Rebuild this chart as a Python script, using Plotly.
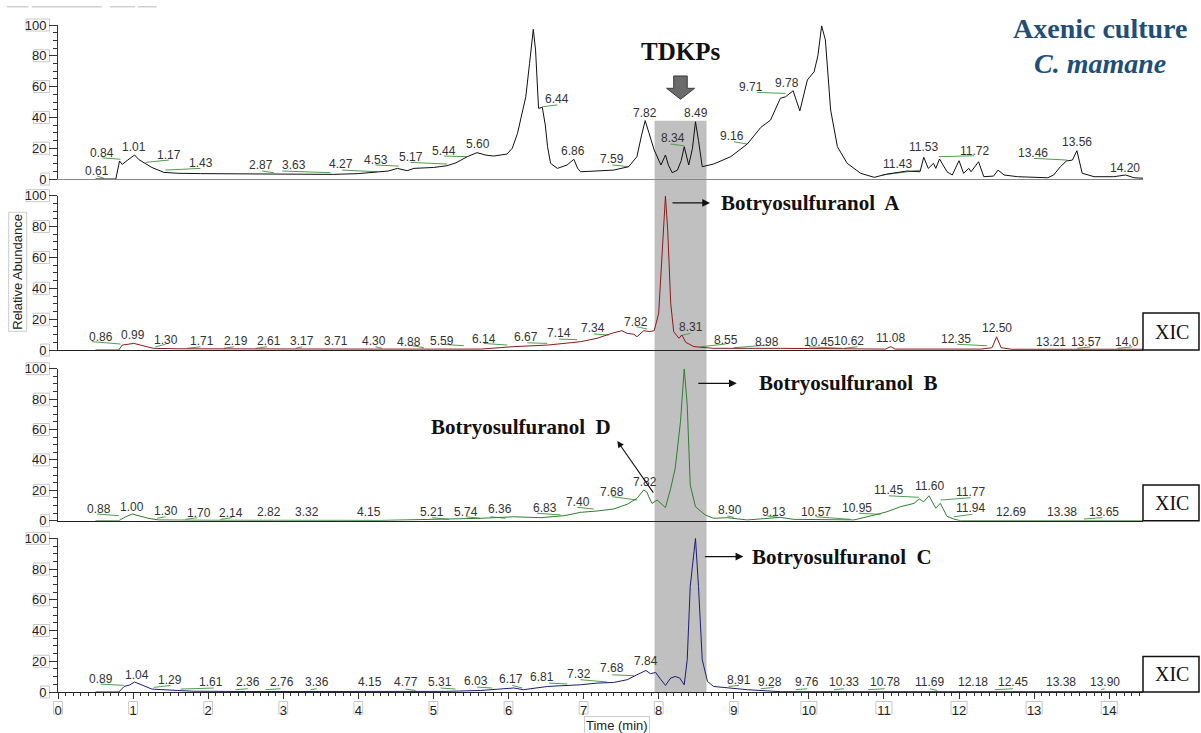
import plotly.graph_objects as go
from plotly.subplots import make_subplots

XMAX = 14.45

# ---------------- Panel 1: TIC (black) ----------------
tic_t = [0.50, 0.77, 0.82, 0.855, 0.92, 1.02, 1.08, 1.14, 1.25, 1.41,
         1.60, 1.90, 2.50, 3.00, 3.67, 4.00, 4.30, 4.40, 4.52, 4.65,
         4.74, 5.00, 5.18, 5.30, 5.45, 5.58, 5.70, 5.80, 5.98, 6.05,
         6.12, 6.23, 6.28, 6.33, 6.36, 6.40, 6.45, 6.49, 6.52, 6.56,
         6.65, 6.78, 6.87, 6.92, 6.96, 7.20, 7.40, 7.60, 7.71, 7.77,
         7.82, 7.87, 7.94, 8.03, 8.09, 8.13, 8.18, 8.25, 8.30, 8.34,
         8.40, 8.45, 8.49, 8.53, 8.58, 8.73, 8.96, 9.18, 9.36, 9.49,
         9.62, 9.69, 9.79, 9.88, 9.98, 10.07, 10.12, 10.17, 10.22, 10.29,
         10.38, 10.51, 10.69, 10.87, 11.04, 11.31, 11.48, 11.53, 11.59, 11.66,
         11.69, 11.74, 11.84, 11.91, 12.00, 12.06, 12.13, 12.16, 12.26, 12.33,
         12.46, 12.52, 12.60, 12.78, 13.18, 13.26, 13.35, 13.43, 13.51, 13.57,
         13.64, 13.80, 14.06, 14.22, 14.33, 14.45]
tic_v = [0, 0, 11.7, 9.5, 12.0, 15.6, 12.5, 10.6, 7.5, 4.3,
         3.7, 3.5, 3.2, 3.0, 3.0, 3.5, 4.7, 5.2, 6.9, 5.4,
         6.9, 7.5, 8.6, 10.5, 14.5, 17.1, 15.5, 14.9, 16.2, 20.0,
         29.7, 53.4, 75.0, 97.2, 83.8, 45.9, 46.5, 35.0, 21.0, 10.2,
         6.9, 9.1, 12.8, 7.0, 4.7, 5.2, 5.8, 8.0, 14.5, 28.0,
         37.9, 30.0, 18.8, 9.1, 15.6, 9.0, 4.1, 5.8, 12.0, 21.0,
         9.1, 20.0, 37.2, 25.0, 8.0, 9.7, 14.5, 22.7, 33.5, 38.3,
         52.4, 53.4, 57.3, 44.2, 64.3, 69.7, 80.0, 99.4, 90.3, 44.8,
         21.0, 10.2, 3.7, 1.1, 3.2, 5.2, 4.7, 14.1, 6.9, 10.2,
         6.9, 13.0, 4.7, 2.6, 11.9, 3.7, 6.9, 4.7, 11.2, 1.5,
         1.9, 5.8, 2.6, 1.5, 0.8, 2.6, 8.0, 11.7, 12.3, 18.4,
         3.7, 1.5, 1.5, 2.6, 0.8, 0.5]

# ---------------- Panel 2: XIC Botryosulfuranol A (dark red) ----------------
xa_t = [0.50, 0.81, 0.855, 0.92, 1.01, 1.10, 1.27, 1.60, 2.50, 3.50,
        4.30, 5.00, 5.63, 6.07, 6.52, 6.96, 7.18, 7.40, 7.51, 7.58,
        7.67, 7.71, 7.80, 7.88, 7.94, 8.00, 8.05, 8.09, 8.12, 8.16,
        8.20, 8.27, 8.31, 8.36, 8.47, 8.73, 9.62, 10.50, 11.02, 11.09,
        11.15, 12.30, 12.44, 12.50, 12.56, 12.70, 13.50, 14.45]
xa_v = [0, 0, 3.2, 3.5, 4.3, 3.2, 1.1, 0.8, 0.6, 0.6,
        0.6, 0.6, 0.6, 2.2, 3.2, 5.4, 7.6, 11.2, 12.5, 10.8,
        10.2, 8.6, 12.5, 12.0, 12.5, 23.8, 67.0, 99.8, 77.8, 30.3,
        11.9, 7.6, 9.7, 5.0, 2.2, 1.1, 1.1, 0.6, 0.6, 2.2,
        0.6, 0.6, 1.5, 8.6, 1.5, 0.5, 0.5, 0.5]

# ---------------- Panel 3: XIC Botryosulfuranol B / D (green) ----------------
xb_t = [0.50, 0.81, 0.90, 0.99, 1.20, 1.34, 2.00, 3.00, 4.30, 5.18,
        5.63, 6.07, 6.43, 6.74, 6.96, 7.18, 7.40, 7.58, 7.71, 7.80,
        7.84, 7.91, 7.98, 8.03, 8.09, 8.16, 8.22, 8.29, 8.34, 8.38,
        8.42, 8.49, 8.62, 8.73, 8.91, 9.18, 9.62, 9.80, 10.60, 10.91,
        11.04, 11.22, 11.40, 11.47, 11.53, 11.60, 11.69, 11.75, 11.84, 11.93,
        12.02, 14.45]
xb_v = [0, 0, 2.6, 4.4, 1.6, 0.5, 0.3, 0.3, 0.2, 1.1,
        1.6, 2.6, 2.0, 3.3, 5.5, 6.4, 7.7, 10.8, 14.7, 20.2,
        19.0, 11.4, 13.6, 11.4, 8.6, 21.3, 34.5, 65.1, 100, 76.1,
        23.5, 9.2, 3.8, 1.6, 2.0, 0.5, 2.2, 0.9, 0.5, 4.2,
        5.9, 9.2, 11.4, 14.3, 12.5, 16.4, 8.2, 11.4, 2.9, 1.1,
        0, 0]

# ---------------- Panel 4: XIC Botryosulfuranol C (navy) ----------------
xc_t = [0.50, 0.81, 0.88, 0.95, 1.02, 1.10, 1.25, 1.59, 1.80, 2.50,
        4.30, 5.18, 5.63, 6.07, 6.20, 6.52, 6.96, 7.18, 7.40, 7.58,
        7.71, 7.83, 7.89, 7.96, 8.03, 8.09, 8.16, 8.22, 8.28, 8.34,
        8.38, 8.42, 8.49, 8.53, 8.58, 8.65, 8.73, 8.96, 9.18, 9.62,
        14.45]
xc_v = [0, 0, 3.6, 4.5, 6.5, 5.0, 1.9, 1.0, 0.5, 0.3,
        0.2, 0.4, 1.0, 2.6, 1.5, 3.6, 4.7, 5.8, 6.2, 8.0,
        11.2, 14.0, 11.9, 12.7, 8.0, 4.3, 9.1, 10.1, 9.1, 4.7,
        21.0, 68.6, 100, 68.6, 21.0, 6.9, 3.6, 2.6, 1.5, 0.2,
        0.2]

# ---------------- Peak labels (text, time, abundance) ----------------
lab1_text = ["0.61", "0.84", "1.01", "1.17", "1.43", "2.87", "3.63", "4.27", "4.53", "5.17",
             "5.44", "5.60", "6.32", "6.44", "6.86", "7.59", "7.82", "8.34", "8.49", "9.16",
             "9.71", "9.78", "10.17", "11.43", "11.53", "11.72", "13.46", "13.56", "14.20"]
lab1_t = [0.522, 0.589, 1.010, 1.472, 1.898, 2.697, 3.137, 3.763, 4.229, 4.695,
          5.139, 5.597, 6.316, 6.649, 6.862, 7.372, 7.816, 8.189, 8.491, 8.980,
          9.224, 9.703, 10.169, 11.178, 11.532, 12.211, 12.989, 13.566, 14.209]
lab1_v = [5.4, 16.7, 21.0, 15.6, 10.2, 9.1, 9.1, 9.5, 12.3, 14.5,
          18.4, 22.7, 103.2, 51.8, 18.4, 12.8, 43.1, 26.4, 43.1, 27.9,
          59.5, 62.1, 105.8, 9.7, 21.0, 18.4, 16.7, 24.2, 7.3]

lab2_text = ["0.86", "0.99", "1.30", "1.71", "2.19", "2.61", "3.17", "3.71", "4.30", "4.88",
             "5.59", "6.14", "6.67", "7.14", "7.34", "7.82", "8.09", "8.31", "8.55", "8.98",
             "10.45", "10.62", "11.08", "12.35", "12.50", "13.21", "13.57", "14.0"]
lab2_t = [0.566, 1.002, 1.432, 1.921, 2.364, 2.808, 3.253, 3.696, 4.206, 4.672,
          5.117, 5.671, 6.227, 6.670, 7.123, 7.692, 8.091, 8.434, 8.891, 9.446,
          10.133, 10.533, 11.088, 11.954, 12.500, 13.219, 13.685, 14.241]
lab2_v = [8.6, 9.7, 6.5, 5.8, 5.8, 5.8, 5.8, 5.8, 5.8, 5.4,
          6.0, 6.9, 8.6, 10.8, 14.1, 18.3, 105.8, 15.1, 6.5, 5.4,
          5.4, 5.8, 7.6, 6.9, 14.5, 5.4, 5.4, 5.4]

lab3_text = ["0.88", "1.00", "1.30", "1.70", "2.14", "2.82", "3.32", "4.15", "5.21", "5.74",
             "6.36", "6.83", "7.40", "7.68", "7.82", "8.34", "8.90", "9.13", "10.57", "10.95",
             "11.45", "11.60", "11.77", "11.94", "12.69", "13.38", "13.65"]
lab3_t = [0.543, 0.988, 1.432, 1.875, 2.298, 2.808, 3.310, 4.140, 4.984, 5.428,
          5.884, 6.480, 6.923, 7.381, 7.812, 8.335, 8.944, 9.534, 10.089, 10.645,
          11.065, 11.611, 12.154, 12.154, 12.696, 13.375, 13.929]
lab3_v = [7.7, 9.2, 6.4, 4.9, 4.9, 5.9, 5.9, 5.7, 5.9, 5.9,
          7.7, 8.6, 12.5, 19.1, 25.7, 106.8, 7.0, 5.9, 5.9, 8.2,
          20.2, 22.8, 18.7, 8.2, 5.9, 5.9, 5.9]

lab4_text = ["0.89", "1.04", "1.29", "1.61", "2.36", "2.76", "3.36", "4.15", "4.77", "5.31",
             "6.03", "6.17", "6.81", "7.32", "7.68", "7.84", "8.49", "8.91", "9.28", "9.76",
             "10.33", "10.78", "11.69", "12.18", "12.45", "13.38", "13.90"]
lab4_t = [0.575, 1.046, 1.498, 2.031, 2.528, 2.986, 3.443, 4.153, 4.628, 5.085,
          5.561, 6.027, 6.449, 6.937, 7.381, 7.834, 8.491, 9.068, 9.481, 9.979,
          10.466, 11.008, 11.612, 12.184, 12.717, 13.352, 13.938]
lab4_v = [8.6, 11.2, 7.5, 6.2, 6.2, 6.2, 6.2, 6.2, 6.2, 6.2,
          6.9, 8.4, 9.5, 11.9, 15.6, 19.9, 106.5, 8.0, 6.2, 6.2,
          6.2, 6.2, 6.2, 6.2, 6.2, 6.2, 6.2]

# ---------------- Integration baseline marks (t0, v0, t1, v1) ----------------
marks1 = [(0.522, 1.9, 0.610, 0.5), (0.589, 13.8, 0.832, 12.8), (1.165, 10.8, 1.476, 12.3),
          (1.432, 5.8, 1.898, 6.9), (2.720, 5.2, 2.874, 4.1), (2.986, 5.2, 3.629, 4.1),
          (3.785, 5.8, 4.251, 4.7), (4.229, 9.1, 4.539, 8.4), (4.695, 10.8, 5.184, 9.7),
          (5.139, 14.9, 5.450, 14.5), (6.449, 46.9, 6.649, 48.1), (7.381, 9.1, 7.603, 8.0),
          (8.158, 22.7, 8.335, 21.6), (9.001, 24.2, 9.180, 22.7), (9.313, 56.2, 9.690, 55.6),
          (10.978, 2.6, 11.489, 5.8), (11.732, 14.5, 12.198, 15.1), (12.997, 13.4, 13.441, 12.3)]
marks2 = [(0.455, 5.4, 0.832, 3.9), (1.299, 2.1, 1.432, 3.7), (1.721, 1.1, 1.898, 2.1),
          (2.208, 1.1, 2.342, 2.1), (2.631, 1.1, 2.786, 2.1), (3.163, 1.1, 3.253, 2.1),
          (4.229, 2.1, 4.318, 1.1), (4.672, 3.2, 4.872, 1.5), (5.117, 3.7, 5.405, 2.8),
          (5.671, 4.3, 5.983, 3.2), (6.249, 4.7, 6.516, 4.3), (6.670, 7.1, 6.915, 6.7),
          (7.136, 10.4, 7.336, 9.7), (7.705, 15.1, 7.848, 13.6), (8.291, 9.3, 8.424, 10.8),
          (8.558, 2.1, 8.891, 3.9), (9.001, 1.5, 9.446, 3.2), (10.000, 2.1, 10.445, 1.1),
          (10.466, 1.1, 10.645, 2.1), (11.977, 3.7, 12.376, 2.8), (13.575, 1.1, 13.752, 2.0),
          (14.108, 1.1, 14.307, 2.0)]
marks3 = [(0.522, 4.4, 0.810, 3.3), (1.321, 1.6, 1.432, 2.6), (1.698, 0.9, 1.854, 2.0),
          (2.164, 0.9, 2.320, 2.0), (4.984, 2.0, 5.205, 0.9), (5.428, 2.6, 5.627, 1.6),
          (5.760, 2.6, 5.960, 1.6), (6.382, 4.9, 6.693, 3.8), (6.915, 8.8, 7.136, 7.7),
          (7.381, 15.8, 7.715, 13.6), (8.913, 3.1, 9.001, 2.2), (9.446, 3.1, 9.600, 2.2),
          (10.089, 2.6, 10.556, 0.9), (10.666, 4.9, 10.955, 4.2), (11.065, 16.4, 11.465, 15.4),
          (11.754, 13.6, 12.154, 15.1), (11.931, 2.6, 12.177, 4.2), (13.663, 1.1, 13.908, 2.0)]
marks4 = [(0.566, 5.2, 0.876, 4.3), (1.276, 3.0, 1.498, 4.3), (1.632, 1.9, 2.075, 2.6),
          (2.364, 1.5, 2.528, 2.1), (2.764, 1.5, 2.964, 2.1), (3.363, 1.5, 3.443, 2.1),
          (4.628, 1.9, 4.762, 1.0), (5.095, 2.6, 5.294, 1.9), (5.583, 3.2, 5.783, 2.6),
          (6.050, 4.3, 6.183, 2.6), (6.537, 5.8, 6.782, 5.2), (6.959, 8.0, 7.315, 6.5),
          (7.381, 11.2, 7.669, 10.6), (8.934, 3.6, 9.068, 4.3), (9.357, 2.1, 9.534, 3.0),
          (9.823, 1.5, 9.979, 2.1), (10.333, 1.5, 10.466, 2.1), (10.786, 1.5, 11.008, 2.1),
          (11.612, 2.1, 11.710, 1.0), (12.477, 1.5, 12.717, 2.1), (13.894, 1.5, 13.938, 2.1)]

# highlighted TDKP window (min) and its top in panel 1 (relative abundance)
window_t = [7.945, 8.637]
window_top_v = 37.9

x_ticks = list(range(0, 15))
y_ticks = [0, 20, 40, 60, 80, 100]

# ---------------- Figure ----------------
SANS = "Liberation Sans, Arial, sans-serif"
SERIF = "Liberation Serif, Times New Roman, serif"

W, H, ML, MR, MT, MB = 1201, 733, 58, 58, 25, 41
PW, PH = W - ML - MR, H - MT - MB

dom = {1: (0.7691, 1.0), 2: (0.5127, 0.7441), 3: (0.2568, 0.4847), 4: (0.0, 0.2304)}


def ypaper(panel, v):
    d0, d1 = dom[panel]
    return d0 + v / 100.0 * (d1 - d0)


fig = make_subplots(rows=4, cols=1, shared_xaxes=True, vertical_spacing=0.02)

series = [(tic_t, tic_v, "#111111"), (xa_t, xa_v, "#8b1a1a"),
          (xb_t, xb_v, "#2f7f2f"), (xc_t, xc_v, "#1c1c78")]
marks_all = [marks1, marks2, marks3, marks4]
labels_all = [(lab1_text, lab1_t, lab1_v), (lab2_text, lab2_t, lab2_v),
              (lab3_text, lab3_t, lab3_v), (lab4_text, lab4_t, lab4_v)]

for i, (ts, vs, col) in enumerate(series, start=1):
    mx, my = [], []
    for (t0, v0, t1, v1) in marks_all[i - 1]:
        mx += [t0, t1, None]
        my += [v0, v1, None]
    fig.add_trace(go.Scatter(x=mx, y=my, mode="lines", line=dict(color="#4f9f4f", width=1),
                             hoverinfo="skip", showlegend=False), row=i, col=1)
    fig.add_trace(go.Scatter(x=ts, y=vs, mode="lines", line=dict(color=col, width=1),
                             showlegend=False), row=i, col=1)

annotations = []
for i, (txts, lts, lvs) in enumerate(labels_all, start=1):
    xr = "x" if i == 1 else f"x{i}"
    yr = "y" if i == 1 else f"y{i}"
    for s, t, v in zip(txts, lts, lvs):
        annotations.append(dict(text=s, x=t, y=v, xref=xr, yref=yr, showarrow=False,
                                xanchor="center", yanchor="middle",
                                font=dict(family=SANS, size=12, color="#333333")))

for i in range(1, 5):
    fig.update_yaxes(row=i, col=1, domain=list(dom[i]), range=[0, 100], tickvals=y_ticks,
                     ticks="outside", ticklen=8, tickwidth=1, tickcolor="#333",
                     showline=True, linecolor="#333", linewidth=1, showgrid=False,
                     zeroline=False, tickfont=dict(family=SANS, size=13, color="#222"),
                     minor=dict(dtick=5, ticklen=4, ticks="outside", tickcolor="#333",
                                showgrid=False))
    fig.update_xaxes(row=i, col=1, range=[0, XMAX], showgrid=False, zeroline=False,
                     showline=True, linecolor="#888" if i == 1 else "#222", linewidth=1,
                     showticklabels=(i == 4), ticks="outside" if i == 4 else "")

fig.update_xaxes(row=4, col=1, tickvals=x_ticks, ticklen=6, tickcolor="#333",
                 tickfont=dict(family=SANS, size=13, color="#222"),
                 minor=dict(dtick=0.1, ticklen=3, ticks="outside", tickcolor="#333"))

shapes = []
# grey window
shapes.append(dict(type="rect", xref="paper", yref="paper",
                   x0=window_t[0] / XMAX, x1=window_t[1] / XMAX,
                   y0=0, y1=ypaper(1, window_top_v),
                   fillcolor="#c0c0c0", line=dict(width=0), layer="below"))
# block arrow under "TDKPs"
shapes.append(dict(type="path", xref="x", yref="y",
                   path="M 8.20,66.9 L 8.38,66.9 L 8.38,58.9 L 8.478,58.9 L 8.291,51.8 "
                        "L 8.105,58.9 L 8.20,58.9 Z",
                   fillcolor="#6b6b6b", line=dict(color="#3a3a3a", width=1)))
# light frames around tick labels (instrument-software style)
BOX = dict(color="#c8c8c8", width=1)
for p in range(1, 5):
    for v in y_ticks:
        wpx = 7.3 * len(str(v)) + 1.5
        yc = ypaper(p, v)
        shapes.append(dict(type="rect", xref="paper", yref="paper",
                           x0=(49.5 - wpx - ML) / PW, x1=(49.5 - ML) / PW,
                           y0=yc - 6.0 / PH, y1=yc + 6.0 / PH, line=BOX, layer="below"))
for t in x_ticks:
    wpx = 7.3 * len(str(t)) + 1.5
    xc = t / XMAX
    shapes.append(dict(type="rect", xref="paper", yref="paper",
                       x0=xc - wpx / 2 / PW, x1=xc + wpx / 2 / PW,
                       y0=-22.0 / PH, y1=-9.5 / PH, line=BOX, layer="below"))
# XIC boxes
for p, top in [(2, 24.0), (3, 23.5), (4, 23.1)]:
    shapes.append(dict(type="rect", xref="paper", yref="paper", x0=1.0, x1=1.0516,
                       y0=ypaper(p, 0), y1=ypaper(p, top),
                       line=dict(color="#111", width=1.5), fillcolor="rgba(0,0,0,0)"))
    annotations.append(dict(text="XIC", xref="paper", yref="paper", x=1.0267,
                            y=ypaper(p, top / 2), showarrow=False, xanchor="center",
                            yanchor="middle",
                            font=dict(family=SERIF, size=20, color="#111")))
# faint header remnants at top-left
for x0, x1 in [(6.7, 28.3), (31.7, 101.7), (110, 135), (137.7, 156.7)]:
    shapes.append(dict(type="line", xref="paper", yref="paper",
                       x0=(x0 - ML) / PW, x1=(x1 - ML) / PW, y0=1.0274, y1=1.0274,
                       line=dict(color="#cfcfcf", width=1.5)))

bold = dict(family=SERIF, size=21, color="#111")
annotations += [
    dict(text="<b>TDKPs</b>", x=8.284, y=82.7, xref="x", yref="y", showarrow=False,
         xanchor="center", font=dict(family=SERIF, size=25, color="#111")),
    dict(text="<b>Axenic culture</b>", x=0.960, y=0.995, xref="paper", yref="paper",
         xanchor="center", yanchor="middle",
         showarrow=False, font=dict(family=SERIF, size=28, color="#1f4e79")),
    dict(text="<b><i>C. mamane</i></b>", x=0.960, y=0.9426, xref="paper", yref="paper",
         xanchor="center", yanchor="middle",
         showarrow=False, font=dict(family=SERIF, size=28, color="#1f4e79")),
    # arrows
    dict(text="", x=8.684, y=95.3, xref="x2", yref="y2", ax=-39, ay=0, showarrow=True,
         arrowhead=2, arrowsize=1.2, arrowwidth=1.3, arrowcolor="#111"),
    dict(text="", x=9.04, y=90.4, xref="x3", yref="y3", ax=-40, ay=0, showarrow=True,
         arrowhead=2, arrowsize=1.2, arrowwidth=1.3, arrowcolor="#111"),
    dict(text="", x=9.128, y=88.1, xref="x4", yref="y4", ax=-40, ay=0, showarrow=True,
         arrowhead=2, arrowsize=1.2, arrowwidth=1.3, arrowcolor="#111"),
    dict(text="", x=7.449, y=52.4, xref="x3", yref="y3", ax=37, ay=53, showarrow=True,
         arrowhead=2, arrowsize=1.2, arrowwidth=1.1, arrowcolor="#111"),
    # compound names
    dict(text="<b>Botryosulfuranol\u00a0 A</b>", x=8.804, y=95.3, xref="x2", yref="y2",
         xanchor="left", showarrow=False, font=bold),
    dict(text="<b>Botryosulfuranol\u00a0 B</b>", x=9.31, y=90.4, xref="x3", yref="y3",
         xanchor="left", showarrow=False, font=bold),
    dict(text="<b>Botryosulfuranol\u00a0 C</b>", x=9.217, y=88.1, xref="x4", yref="y4",
         xanchor="left", showarrow=False, font=bold),
    dict(text="<b>Botryosulfuranol\u00a0 D</b>", x=6.171, y=61.8, xref="x3", yref="y3",
         xanchor="center", showarrow=False, font=bold),
    # axis titles
    dict(text="Relative Abundance", x=-0.0369, y=0.630, xref="paper", yref="paper",
         xanchor="center", yanchor="middle",
         textangle=-90, showarrow=False, bordercolor="#cccccc", borderwidth=1, borderpad=1,
         font=dict(family=SANS, size=13, color="#222")),
    dict(text="Time (min)", x=0.5155, y=-0.0495, xref="paper", yref="paper",
         xanchor="center", yanchor="middle",
         showarrow=False, bordercolor="#cccccc", borderwidth=1, borderpad=1,
         font=dict(family=SANS, size=13, color="#222")),
]

fig.update_layout(width=W, height=H, margin=dict(l=ML, r=MR, t=MT, b=MB),
                  paper_bgcolor="white", plot_bgcolor="rgba(0,0,0,0)",
                  showlegend=False, shapes=shapes, annotations=annotations)

fig.write_html("out.html", config={"displayModeBar": False},
               post_script="document.body.style.margin='0';")
